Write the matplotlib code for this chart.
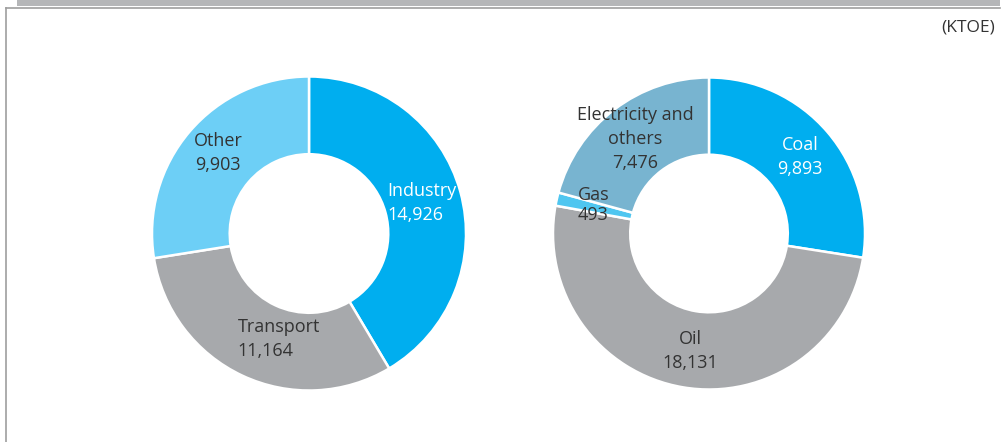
import matplotlib
matplotlib.use("Agg")
import matplotlib.pyplot as plt
from matplotlib.patches import Rectangle

plt.rcParams['font.family'] = ['Open Sans', 'DejaVu Sans']

# Data
sector_labels = ["Industry", "Transport", "Other"]
sector_values = [14926, 11164, 9903]
source_labels = ["Coal", "Oil", "Gas", "Electricity and\nothers"]
source_values = [9893, 18131, 493, 7476]
unit_label = "(KTOE)"

sector_colors = ["#00AEEF", "#A7A9AC", "#6DCFF6"]
source_colors = ["#00AEEF", "#A7A9AC", "#4FC6F0", "#78B4D0"]

W, H = 1004, 442
fig = plt.figure(figsize=(W / 100, H / 100), dpi=100)
fig.patch.set_facecolor("white")

# frame elements
bg = fig.add_axes([0, 0, 1, 1])
bg.set_xlim(0, W)
bg.set_ylim(H, 0)
bg.axis("off")
bg.add_patch(Rectangle((17, -2), 983, 8, facecolor="#B5B6B8", edgecolor="none"))
bg.plot([6.5, 6.5], [8, H], color="#9E9E9E", lw=1.2)
bg.plot([6.5, 1000], [8, 8], color="#9E9E9E", lw=1.2)
bg.text(995, 27, unit_label, ha="right", va="center", fontsize=12.5, color="#333333")

TXT = "#333333"
FS = 13


def donut(cx, cy, r, values, colors):
    ax = fig.add_axes([(cx - r) / W, (H - cy - r) / H, 2 * r / W, 2 * r / H])
    ax.pie(values, colors=colors, startangle=90, counterclock=False, radius=1,
           wedgeprops=dict(width=0.495, edgecolor="white", linewidth=1.8))
    ax.set_xlim(-1, 1)
    ax.set_ylim(-1, 1)
    ax.set_aspect("equal")
    ax.axis("off")
    return ax


def fmt(v):
    return f"{v:,}"


axL = donut(309, 233.5, 157, sector_values, sector_colors)
kw = dict(fontsize=FS, linespacing=1.42, va="center")
axL.text(0.50, 0.194, f"{sector_labels[0]}\n{fmt(sector_values[0])}", ha="left", color="white", **kw)
axL.text(-0.455, -0.672, f"{sector_labels[1]}\n{fmt(sector_values[1])}", ha="left", color=TXT, **kw)
axL.text(-0.58, 0.51, f"{sector_labels[2]}\n{fmt(sector_values[2])}", ha="center", color=TXT, **kw)

axR = donut(709, 233.5, 156, source_values, source_colors)
axR.text(0.583, 0.49, f"{source_labels[0]}\n{fmt(source_values[0])}", ha="center", color="white", **kw)
axR.text(-0.12, -0.753, f"{source_labels[1]}\n{fmt(source_values[1])}", ha="center", color=TXT, **kw)
axR.text(-0.74, 0.183, f"{source_labels[2]}\n{fmt(source_values[2])}", ha="center", color=TXT,
         fontsize=FS, linespacing=1.2, va="center")
axR.text(-0.474, 0.606, f"{source_labels[3]}\n{fmt(source_values[3])}", ha="center", color=TXT, **kw)

fig.savefig("out.png", dpi=100, facecolor="white")
